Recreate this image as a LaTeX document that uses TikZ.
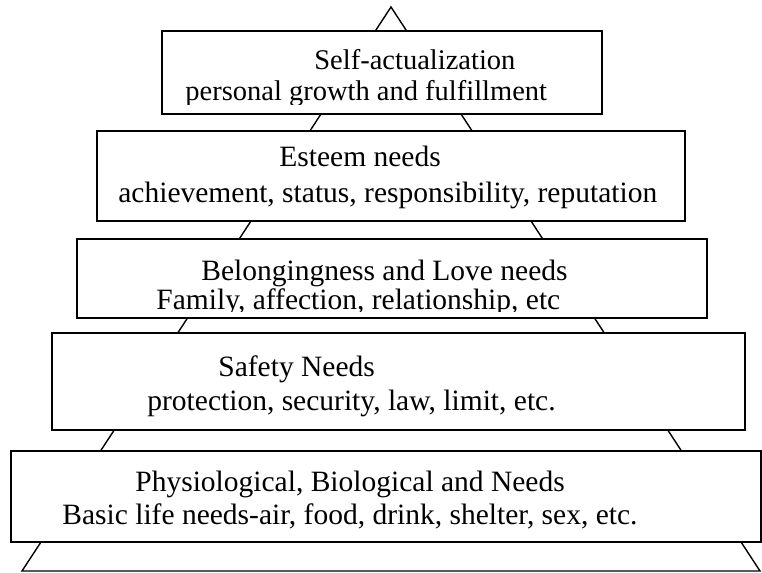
\documentclass[tikz,border=0pt]{standalone}
\usepackage{fontspec}
\setmainfont{Liberation Serif}

\begin{document}
\begin{tikzpicture}[x=0.5pt, y=-0.5pt,
    blk/.style={draw, fill=white, line width=1pt},
    txt/.style={anchor=base west, inner sep=0pt, font=\fontsize{14.75}{17}\selectfont}]
    \useasboundingbox (0,0) rectangle (762,573);

    % Пирамида
    \draw[line width=0.7pt] (391,7) -- (760,571) -- (22,571) -- cycle;

    % Уровень 5
    \begin{scope}
        \draw[blk] (162,31) rectangle (602,114);
        \clip (162,31) rectangle (602,104);
        \node[txt, font=\fontsize{14.25}{17}\selectfont] (self)  at (314,69)  {Self-actualization};
        \node[txt, font=\fontsize{14.25}{17}\selectfont] (selfd) at (185,100) {personal growth and fulfillment};
    \end{scope}

    % Уровень 4
    \begin{scope}
        \draw[blk] (97,131) rectangle (685,221);
        \node[txt] (est)  at (279,166) {Esteem needs};
        \node[txt] (estd) at (118,202) {achievement, status, responsibility, reputation};
    \end{scope}

    % Уровень 3
    \begin{scope}
        \draw[blk] (77,239) rectangle (707,318);
        \clip (77,239) rectangle (707,311);
        \node[txt] (love)  at (201,280) {Belongingness and Love needs};
        \node[txt] (loved) at (156,309) {Family, affection, relationship, etc};
    \end{scope}

    % Уровень 2
    \begin{scope}
        \draw[blk] (52,333) rectangle (745,430);
        \node[txt] (safe)  at (218,376) {Safety Needs};
        \node[txt] (safed) at (147,410) {protection, security, law, limit, etc.};
    \end{scope}

    % Уровень 1
    \begin{scope}
        \draw[blk] (11,451) rectangle (761,542);
        \node[txt] (phys)  at (135,491) {Physiological, Biological and Needs};
        \node[txt] (physd) at (62,524)  {Basic life needs-air, food, drink, shelter, sex, etc.};
    \end{scope}
\end{tikzpicture}
\end{document}
